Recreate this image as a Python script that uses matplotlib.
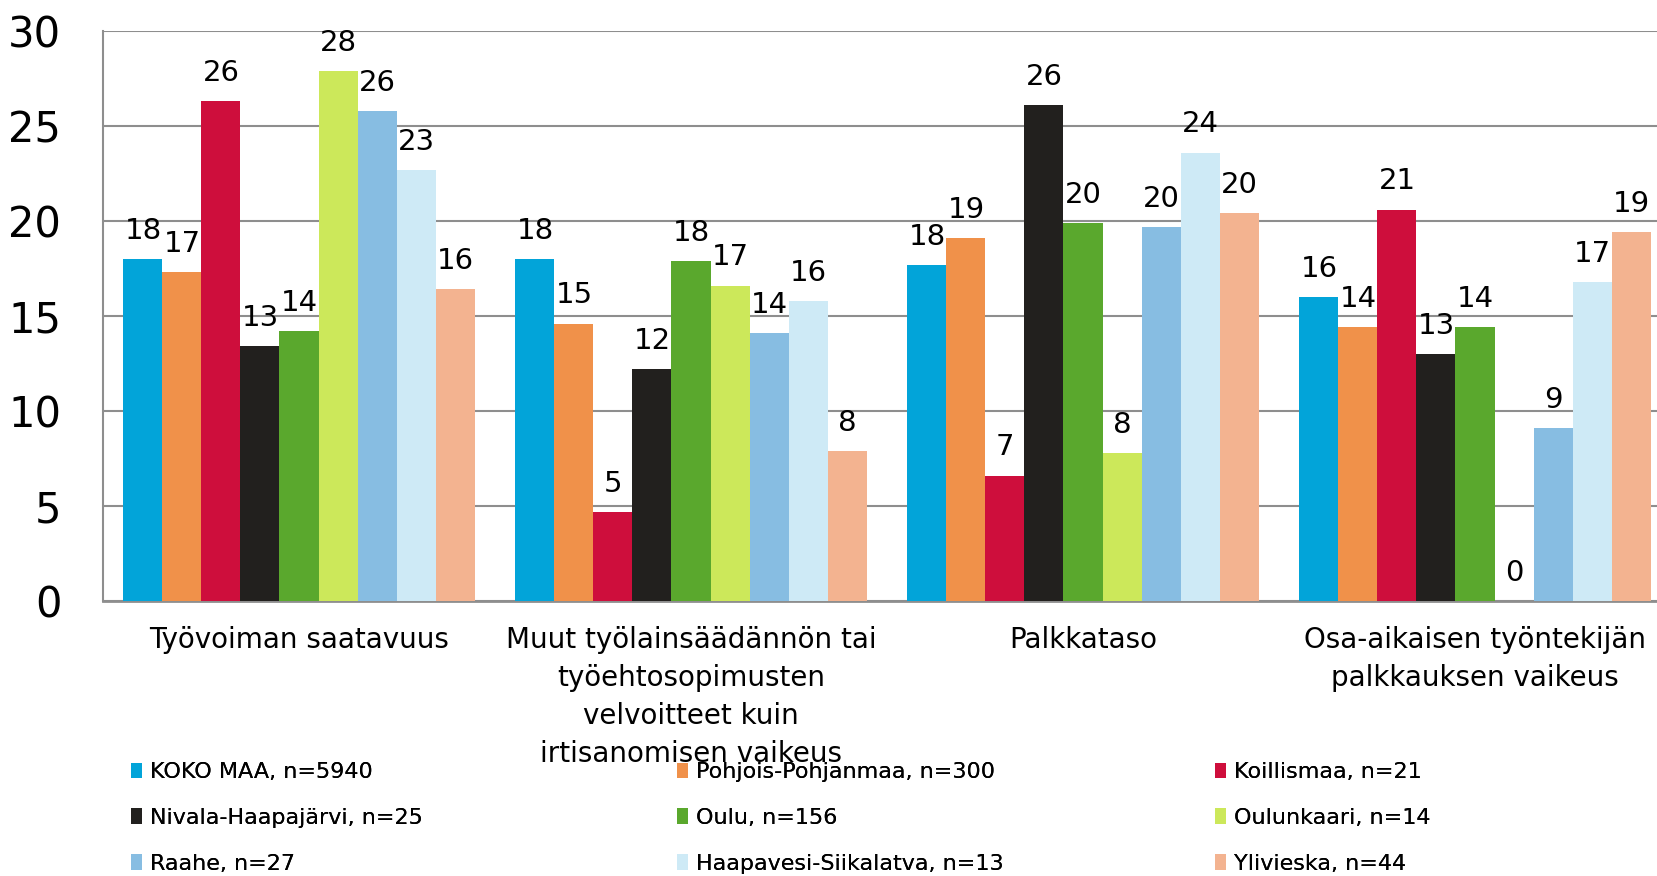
import matplotlib
matplotlib.use("Agg")
import matplotlib.pyplot as plt
from matplotlib.patches import Patch
import numpy as np

categories = [
    "Työvoiman saatavuus",
    "Muut työlainsäädännön tai\ntyöehtosopimusten\nvelvoitteet kuin\nirtisanomisen vaikeus",
    "Palkkataso",
    "Osa-aikaisen työntekijän\npalkkauksen vaikeus",
]
series_names = [
    "KOKO MAA, n=5940",
    "Pohjois-Pohjanmaa, n=300",
    "Koillismaa, n=21",
    "Nivala-Haapajärvi, n=25",
    "Oulu, n=156",
    "Oulunkaari, n=14",
    "Raahe, n=27",
    "Haapavesi-Siikalatva, n=13",
    "Ylivieska, n=44",
]
koko_maa = [18.0, 18.0, 17.7, 16.0]
pohjois_pohjanmaa = [17.3, 14.6, 19.1, 14.4]
koillismaa = [26.3, 4.7, 6.6, 20.6]
nivala_haapajarvi = [13.4, 12.2, 26.1, 13.0]
oulu = [14.2, 17.9, 19.9, 14.4]
oulunkaari = [27.9, 16.6, 7.8, 0.0]
raahe = [25.8, 14.1, 19.7, 9.1]
haapavesi_siikalatva = [22.7, 15.8, 23.6, 16.8]
ylivieska = [16.4, 7.9, 20.4, 19.4]
series_values = [koko_maa, pohjois_pohjanmaa, koillismaa, nivala_haapajarvi,
                 oulu, oulunkaari, raahe, haapavesi_siikalatva, ylivieska]
colors = ["#02A4D9", "#F0914A", "#CE0E3C", "#22201E", "#5AA82D",
          "#CCE85A", "#87BDE2", "#CEEAF6", "#F3B390"]
yticks = [0, 5, 10, 15, 20, 25, 30]

plt.rcParams['font.family'] = ['DejaVu Sans']
W, H = 1658, 876
fig = plt.figure(figsize=(W / 100, H / 100), dpi=100)
ax = fig.add_axes([103 / W, (H - 601) / H, 1568 / W, 570 / H])

grid_c = "#8E8E8E"
n = len(series_values)
w = 0.0995
x = np.arange(len(categories))
for j, (vals, c) in enumerate(zip(series_values, colors)):
    xs = x + (j - (n - 1) / 2) * w
    ax.bar(xs, vals, width=w, color=c, zorder=3, linewidth=0)
    for xi, v in zip(xs, vals):
        ax.annotate(f"{v:.0f}", (xi, v), xytext=(0, 14.5), textcoords="offset points",
                    ha="center", va="baseline", fontsize=21, color="black", zorder=4)

ax.set_xlim(-0.5, len(categories) - 0.5)
ax.set_ylim(0, 30)
ax.set_yticks(yticks)
ax.set_yticklabels([str(t) for t in yticks], fontsize=30)
ax.yaxis.grid(True, color=grid_c, linewidth=1.5, zorder=0)
ax.set_axisbelow(True)
ax.tick_params(axis="y", length=0, pad=30)
ax.set_xticks(x)
ax.set_xticklabels(categories, fontsize=20, linespacing=1.45)
ax.tick_params(axis="x", length=0, pad=18)
for s in ["top", "right"]:
    ax.spines[s].set_visible(False)
ax.spines["left"].set_color(grid_c)
ax.spines["left"].set_linewidth(1.5)
ax.spines["bottom"].set_color(grid_c)
ax.spines["bottom"].set_linewidth(2)

handles = [Patch(facecolor=c, edgecolor="none") for c in colors]
col_x = [131, 677, 1215]
for k in range(3):
    idx = [k, k + 3, k + 6]
    leg = fig.legend([handles[i] for i in idx], [series_names[i] for i in idx],
                     loc="center left", bbox_to_anchor=(col_x[k] / W, (H - 818) / H),
                     frameon=False, fontsize=16, handlelength=0.5, handleheight=0.7,
                     handletextpad=0.35, labelspacing=1.15, borderpad=0, borderaxespad=0)
    fig.add_artist(leg)

fig.savefig("out.png", dpi=100)
